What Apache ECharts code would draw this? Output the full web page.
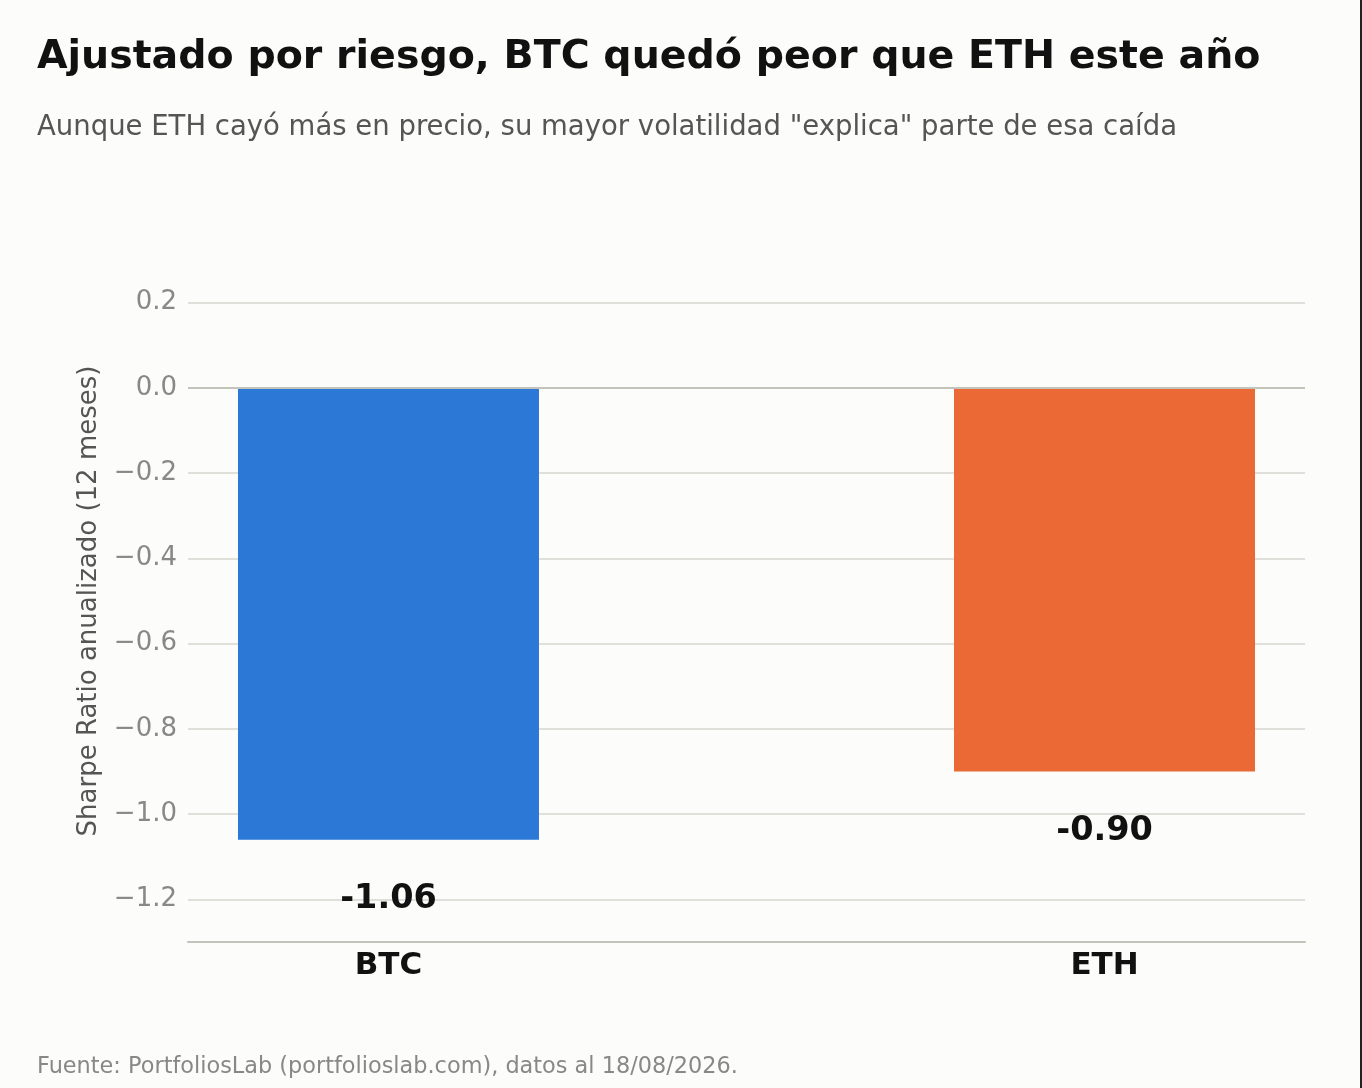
<!DOCTYPE html>
<html>
<head>
<meta charset="utf-8">
<script src="https://cdn.jsdelivr.net/npm/echarts@6/dist/echarts.min.js"></script>
<style>
  html, body { margin: 0; padding: 0; background: #fcfcfa; }
  #chart { width: 1360px; height: 1088px; border-right: 2px solid #222; }
</style>
</head>
<body>
<div id="chart"></div>
<script>
// data
const categories = ["BTC", "ETH"];
const sharpeValues = [-1.06, -0.90];
const barColors = ["#2b78d6", "#ea6935"];

const titleText = "Ajustado por riesgo, BTC quedó peor que ETH este año";
const subtitleText = 'Aunque ETH cayó más en precio, su mayor volatilidad "explica" parte de esa caída';
const sourceText = "Fuente: PortfoliosLab (portfolioslab.com), datos al 18/08/2026.";

const FONT = "DejaVu Sans";

const chart = echarts.init(document.getElementById("chart"));

// matplotlib-style labels: every other 0.1 step, unicode minus
const formatTick = (v) => {
  const k = Math.round(v * 10);
  if (k % 2 !== 0) return "";
  return (k < 0 ? "\u2212" : "") + Math.abs(k / 10).toFixed(1);
};

const option = {
  backgroundColor: "#fcfcfa",
  animation: false,
  textStyle: { fontFamily: FONT },
  graphic: [
    {
      type: "text", left: 37, top: 38,
      style: { text: titleText, fontSize: 39.5, fontWeight: "bold", fill: "#111", fontFamily: FONT },
    },
    {
      type: "text", left: 37, top: 114,
      style: { text: subtitleText, fontSize: 27.5, fill: "#555", fontFamily: FONT },
    },
    {
      type: "text", left: 37, top: 1056,
      style: { text: sourceText, fontSize: 22.4, fill: "#888", fontFamily: FONT },
    },
  ],
  grid: { left: 188, right: 55, top: 260, bottom: 146, containLabel: false },
  xAxis: {
    type: "value",
    min: -0.28,
    max: 1.28,
    splitLine: { show: false },
    axisTick: { show: false },
    axisLine: { onZero: false, lineStyle: { color: "#c3c3bb", width: 2 } },
    axisLabel: {
      customValues: categories.map((c, i) => i),
      formatter: (v) => categories[Math.round(v)] || "",
      fontSize: 31, fontWeight: "bold", color: "#111", margin: 8,
    },
  },
  yAxis: {
    type: "value",
    min: -1.3,
    max: 0.3,
    interval: 0.1,
    name: "Sharpe Ratio anualizado (12 meses)",
    nameLocation: "middle",
    nameGap: 86,
    nameTextStyle: { fontSize: 26, color: "#555" },
    axisLine: { show: false },
    axisTick: { show: false },
    axisLabel: { formatter: formatTick, fontSize: 26, color: "#888", margin: 11, padding: [4, 0, 0, 0] },
    splitLine: { lineStyle: { color: ["rgba(0,0,0,0)", "#e0e0da"], width: 2 } },
  },
  series: [
    {
      type: "bar",
      barWidth: 301,
      data: sharpeValues.map((v, i) => ({
        value: [i, v],
        itemStyle: { color: barColors[i] },
      })),
      label: {
        show: true,
        position: "bottom",
        distance: 43,
        formatter: (p) => p.value[1].toFixed(2),
        fontSize: 33.5, fontWeight: "bold", color: "#111",
      },
      markLine: {
        silent: true,
        symbol: "none",
        label: { show: false },
        lineStyle: { color: "#c3c3bb", width: 2, type: "solid" },
        data: [{ yAxis: 0 }],
      },
    },
  ],
};

chart.setOption(option);
</script>
</body>
</html>
